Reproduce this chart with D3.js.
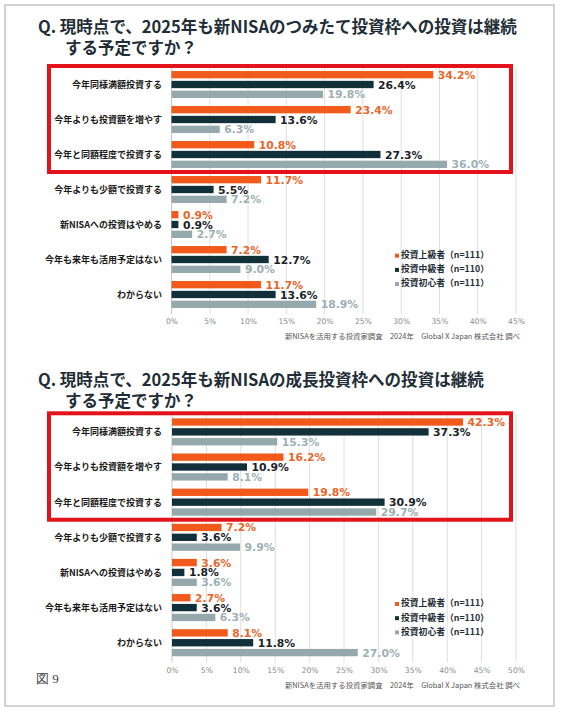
<!DOCTYPE html>
<html><head><meta charset="utf-8">
<script src="https://cdn.jsdelivr.net/npm/d3@7"></script>
<style>
html,body{margin:0;padding:0;background:#fff;}
svg{display:block;}
</style></head>
<body>
<svg id="c" width="562" height="720"></svg>
<script>
// ---------- data ----------
const categories = ["今年同様満額投資する","今年よりも投資額を増やす","今年と同額程度で投資する","今年よりも少額で投資する","新NISAへの投資はやめる","今年も来年も活用予定はない","わからない"];
const seriesNames = ["投資上級者（n=111）","投資中級者（n=110）","投資初心者（n=111）"];
const tsumitateAdvanced     = [34.2, 23.4, 10.8, 11.7, 0.9, 7.2, 11.7];
const tsumitateIntermediate = [26.4, 13.6, 27.3, 5.5, 0.9, 12.7, 13.6];
const tsumitateBeginner     = [19.8, 6.3, 36.0, 7.2, 2.7, 9.0, 18.9];
const growthAdvanced        = [42.3, 16.2, 19.8, 7.2, 3.6, 2.7, 8.1];
const growthIntermediate    = [37.3, 10.9, 30.9, 3.6, 1.8, 3.6, 11.8];
const growthBeginner        = [15.3, 8.1, 29.7, 9.9, 3.6, 6.3, 27.0];
const ticksTsumitate = [0,5,10,15,20,25,30,35,40,45];
const ticksGrowth = [0,5,10,15,20,25,30,35,40,45,50];
const title1 = ["Q. 現時点で、2025年も新NISAのつみたて投資枠への投資は継続", "する予定ですか？"];
const title2 = ["Q. 現時点で、2025年も新NISAの成長投資枠への投資は継続", "する予定ですか？"];
const sourceNote = "新NISAを活用する投資家調査　2024年　Global X Japan 株式会社 調べ";
const figureLabel = "図 9";

// ---------- styles ----------
const barColors = ["#f25a1c", "#12303a", "#95a9ac"];
const labelColors = ["#e8672a", "#1b2328", "#9cb0b3"];
const jp = "'Noto Sans CJK JP','Noto Sans',sans-serif";
const num = "'DejaVu Sans',Verdana,sans-serif";

const svg = d3.select("#c");
svg.append("rect").attr("x",5).attr("y",5).attr("width",549).attr("height",701)
  .attr("fill","#fff").attr("stroke","#c4c4c4").attr("stroke-width",1.5);

let titleSize = null;
function drawChart(cfg){
  const g = svg.append("g");
  // title
  cfg.title.forEach((t,i)=>{
    const tx = g.append("text").attr("x", i===0?38:65).attr("y", cfg.titleY + i*21)
      .attr("font-family", jp).attr("font-weight", 700).attr("font-size", 17)
      .attr("fill", "#1f2e36").text(t);
    if(i===0 && titleSize===null){
      const w = tx.node().getComputedTextLength();
      titleSize = 17*479/w;
    }
    tx.attr("font-size", titleSize);
  });
  const x = d3.scaleLinear().domain([0, d3.max(cfg.ticks)]).range(cfg.xr);
  const y = d3.scaleBand().domain(categories).range(cfg.yr);
  const sub = d3.scaleBand().domain(seriesNames).range([0, y.bandwidth()])
    .paddingInner(0.255).paddingOuter(0.41);
  // gridlines
  g.append("g").selectAll("line").data(cfg.ticks).join("line")
    .attr("x1", d=>x(d)).attr("x2", d=>x(d))
    .attr("y1", cfg.yr[0]).attr("y2", cfg.yr[1]+2)
    .attr("stroke", d=> d===0 ? "#c8c8c8" : "#dedede").attr("stroke-width", 1);
  // axis tick labels
  const ax = g.append("g").attr("transform", `translate(0,${cfg.yr[1]})`)
    .call(d3.axisBottom(x).tickValues(cfg.ticks).tickFormat(d=>d+"%").tickSize(0).tickPadding(7));
  ax.select(".domain").remove();
  ax.selectAll("text").attr("font-family", num).attr("font-size", 7.6).attr("fill", "#8a8a8a");
  // category labels
  g.append("g").selectAll("text").data(categories).join("text")
    .attr("x", 162).attr("y", d=>y(d)+y.bandwidth()/2 + 1)
    .attr("text-anchor","end").attr("dominant-baseline","middle")
    .attr("font-family", jp).attr("font-weight", 700).attr("font-size", 9)
    .attr("fill", "#1a1a1a").text(d=>d);
  // bars
  cfg.series.forEach((vals, si)=>{
    const sg = g.append("g");
    sg.selectAll("rect").data(vals).join("rect")
      .attr("x", x(0)).attr("y", (d,i)=>y(categories[i]) + sub(seriesNames[si]))
      .attr("width", d=>x(d)-x(0)).attr("height", sub.bandwidth())
      .attr("fill", barColors[si]);
    sg.selectAll("text").data(vals).join("text")
      .attr("x", d=>x(d)+4.5)
      .attr("y", (d,i)=>y(categories[i]) + sub(seriesNames[si]) + sub.bandwidth()/2 + 1)
      .attr("dominant-baseline","middle")
      .attr("font-family", num).attr("font-weight", 700).attr("font-size", 10.8)
      .attr("fill", labelColors[si]).text(d=>d.toFixed(1)+"%");
  });
  // red highlight box around first three groups
  const top = y(categories[0]) - 1, bot = y(categories[2]) + y.bandwidth();
  g.append("rect").attr("x", 49).attr("y", top).attr("width", 462).attr("height", bot-top)
    .attr("fill","none").attr("stroke","#e3131b").attr("stroke-width", 4);
  // legend
  const lg = g.append("g").attr("transform", `translate(395,${cfg.legendY})`);
  seriesNames.forEach((s,i)=>{
    lg.append("rect").attr("x",0).attr("y", i*14.2-2).attr("width",4).attr("height",4).attr("fill", barColors[i]);
    lg.append("text").attr("x",6).attr("y", i*14.2).attr("dominant-baseline","middle")
      .attr("font-family", jp).attr("font-weight",700).attr("font-size",8.8)
      .attr("fill","#1f2e36").text(s);
  });
  // source
  g.append("text").attr("x", 520).attr("y", cfg.sourceY).attr("text-anchor","end")
    .attr("dominant-baseline","middle")
    .attr("font-family", jp).attr("font-size", 7.4).attr("fill","#555").text(sourceNote);
}

drawChart({title:title1, titleY:33, ticks:ticksTsumitate,
  xr:[171.5,516], yr:[67,312], series:[tsumitateAdvanced,tsumitateIntermediate,tsumitateBeginner],
  legendY:255.7, sourceY:337});
drawChart({title:title2, titleY:386, ticks:ticksGrowth,
  xr:[172,516], yr:[414.3,660.3], series:[growthAdvanced,growthIntermediate,growthBeginner],
  legendY:604, sourceY:686});

svg.append("text").attr("x",36).attr("y",683).attr("font-family","'Liberation Serif','DejaVu Serif',serif")
  .attr("font-size",13).attr("fill","#444").text(figureLabel);
</script>
</body></html>
